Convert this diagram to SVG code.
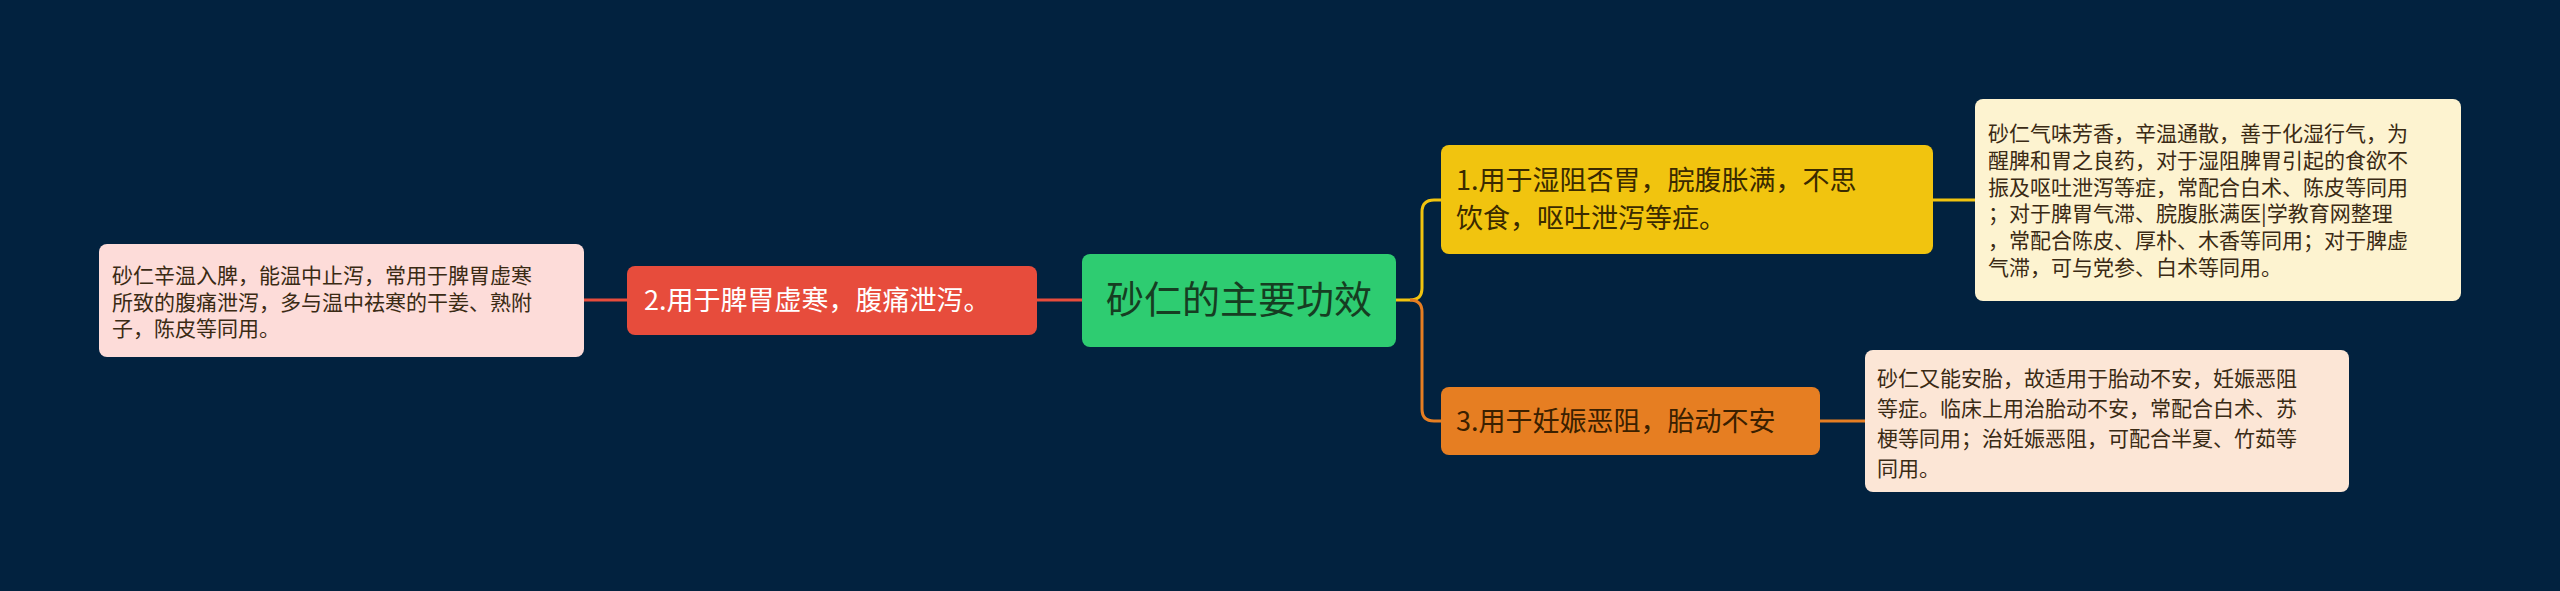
<svg xmlns="http://www.w3.org/2000/svg" width="2560" height="591" viewBox="0 0 2560 591">
<style>
text{font-family:"Noto Sans CJK SC","Liberation Sans",sans-serif}
.d{font-size:21px;fill:#3a2a14}
.n{font-size:27px}
.c{fill:none;stroke-width:3}
</style>
<rect width="2560" height="591" fill="#02223f"/>
<g id="connectors">
<path class="c" stroke="#e74c3c" d="M1082 300H1037M627 300H584"/>
<path class="c" stroke="#f1c40f" d="M1396 300H1410Q1422 300 1422 288V212Q1422 200 1434 200H1441M1933 200H1975"/>
<path class="c" stroke="#e67e22" d="M1410 300Q1422 300 1422 312V409Q1422 421 1434 421H1441M1820 421H1865"/>
</g>
<g id="root"><rect x="1082" y="254" width="314" height="93" rx="8" fill="#2ecc71"/><text x="1239" y="313" text-anchor="middle" font-size="38" fill="#163d22">砂仁的主要功效</text></g>
<g id="node1"><rect x="1441" y="145" width="492" height="109" rx="8" fill="#f1c40f"/><text class="n" fill="#3a2a00"><tspan x="1456" y="190">1.用于湿阻否胃，脘腹胀满，不思</tspan><tspan x="1456" y="228">饮食，呕吐泄泻等症。</tspan></text></g>
<g id="node2"><rect x="627" y="266" width="410" height="69" rx="8" fill="#e74c3c"/><text class="n" x="644" y="310" fill="#ffffff">2.用于脾胃虚寒，腹痛泄泻。</text></g>
<g id="node3"><rect x="1441" y="387" width="379" height="68" rx="8" fill="#e67e22"/><text class="n" x="1456" y="431" fill="#3a2000">3.用于妊娠恶阻，胎动不安</text></g>
<g id="detail1"><rect x="1975" y="99" width="486" height="202" rx="8" fill="#fdf3d0"/><text class="d"><tspan x="1988" y="141">砂仁气味芳香，辛温通散，善于化湿行气，为</tspan><tspan x="1988" y="168">醒脾和胃之良药，对于湿阻脾胃引起的食欲不</tspan><tspan x="1988" y="195">振及呕吐泄泻等症，常配合白术、陈皮等同用</tspan><tspan x="1988" y="221">；对于脾胃气滞、脘腹胀满医|学教育网整理</tspan><tspan x="1988" y="248">，常配合陈皮、厚朴、木香等同用；对于脾虚</tspan><tspan x="1988" y="275">气滞，可与党参、白术等同用。</tspan></text></g>
<g id="detail2"><rect x="99" y="244" width="485" height="113" rx="8" fill="#fddcd9"/><text class="d"><tspan x="112" y="283">砂仁辛温入脾，能温中止泻，常用于脾胃虚寒</tspan><tspan x="112" y="310">所致的腹痛泄泻，多与温中祛寒的干姜、熟附</tspan><tspan x="112" y="336">子，陈皮等同用。</tspan></text></g>
<g id="detail3"><rect x="1865" y="350" width="484" height="142" rx="8" fill="#fce6d6"/><text class="d"><tspan x="1877" y="386">砂仁又能安胎，故适用于胎动不安，妊娠恶阻</tspan><tspan x="1877" y="416">等症。临床上用治胎动不安，常配合白术、苏</tspan><tspan x="1877" y="446">梗等同用；治妊娠恶阻，可配合半夏、竹茹等</tspan><tspan x="1877" y="476">同用。</tspan></text></g>
</svg>
